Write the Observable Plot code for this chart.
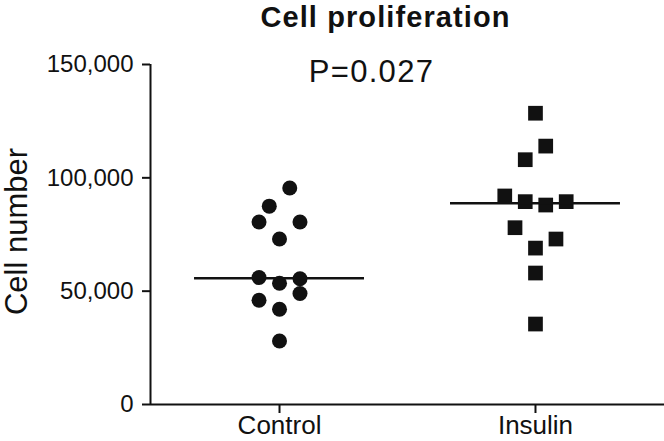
<!DOCTYPE html>
<html>
<head>
<meta charset="utf-8">
<script src="https://cdn.jsdelivr.net/npm/d3@7"></script>
<script src="https://cdn.jsdelivr.net/npm/@observablehq/plot@0.6"></script>
<style>
  html, body { margin: 0; padding: 0; background: #fff; }
  #chart { width: 664px; height: 441px; }
</style>
</head>
<body>
<div id="chart"></div>
<script>
// ---- Data ----
const categories = ["Control", "Insulin"];
const controlValues = [95500, 87500, 80500, 80500, 73000, 56000, 53500, 55500, 49000, 46000, 42000, 28000];
const insulinValues = [128500, 114000, 108000, 92000, 89500, 88000, 89500, 78000, 73000, 69000, 58000, 35500];
// scatter column of each point (as laid out in the figure)
const controlSlots = [1, -1, -2, 2, 0, -2, 0, 2, 2, -2, 0, 0];
const insulinSlots = [0, 1, -1, -3, -1, 1, 3, -2, 2, 0, 0, 0];
const yTicks = [0, 50000, 100000, 150000];
const titleText = "Cell proliferation";
const pText = "P=0.027";
const yLabel = "Cell number";

// ---- Build tables ----
const values = [controlValues, insulinValues];
const slots = [controlSlots, insulinSlots];
const rows = categories.flatMap((c, i) =>
  values[i].map((v, j) => ({cat: c, xi: i, value: v, slot: slots[i][j]})));
const medians = categories.map((c, i) => ({cat: c, xi: i, median: d3.median(values[i])}));

const slotW = 0.04;
const halfW = 0.332;
const xDomain = [-0.504, 1.504];
const font = "'Liberation Sans', Arial, Helvetica, sans-serif";

const chart = Plot.plot({
  width: 664,
  height: 441,
  marginLeft: 150,
  marginRight: 0,
  marginTop: 64,
  marginBottom: 37,
  style: {fontFamily: font, color: "#111", background: "#fff", overflow: "visible"},
  x: {domain: xDomain, axis: null},
  y: {domain: [0, 150000], axis: null},
  marks: [
    Plot.axisY({ticks: yTicks, tickFormat: d3.format(","), tickSize: 8, tickPadding: 9,
      fontSize: 24, strokeWidth: 2, label: null, fill: "#111"}),
    Plot.axisX({ticks: [0, 1], tickFormat: i => categories[i], tickSize: 9, tickPadding: 2,
      fontSize: 26, strokeWidth: 2, label: null, fill: "#111"}),
    Plot.ruleX([xDomain[0]], {y1: 0, y2: 150000, strokeWidth: 2, stroke: "#111"}),
    Plot.ruleY([0], {strokeWidth: 2, stroke: "#111"}),
    Plot.dot(rows.filter(d => d.cat === "Control"),
      {x: d => d.xi + d.slot * slotW, y: "value", r: 7.5, symbol: "circle", fill: "#111", stroke: null}),
    Plot.dot(rows.filter(d => d.cat === "Insulin"),
      {x: d => d.xi + d.slot * slotW, y: "value", r: 8.3, symbol: "square", fill: "#111", stroke: null}),
    Plot.ruleY(medians, {y: "median", x1: d => d.xi - halfW, x2: d => d.xi + halfW, strokeWidth: 2.5, stroke: "#111"}),
    Plot.text([titleText], {frameAnchor: "top", dx: -22, dy: -38, lineAnchor: "bottom",
      fontSize: 29, fontWeight: "bold", fill: "#111"}),
    Plot.text([pText], {frameAnchor: "top", dx: -36, dy: 17, lineAnchor: "bottom",
      fontSize: 31, fill: "#111"}),
    Plot.text([yLabel], {frameAnchor: "left", rotate: -90, textAnchor: "middle", lineAnchor: "middle",
      dx: -133, dy: -3, fontSize: 31, fill: "#111"})
  ]
});
d3.select(chart).selectAll("text")
  .filter(function() { return this.textContent === titleText; })
  .style("letter-spacing", "1.1px");
d3.select(chart).selectAll("text")
  .filter(function() { return this.textContent === pText; })
  .style("letter-spacing", "1.3px");
document.getElementById("chart").appendChild(chart);
</script>
</body>
</html>
